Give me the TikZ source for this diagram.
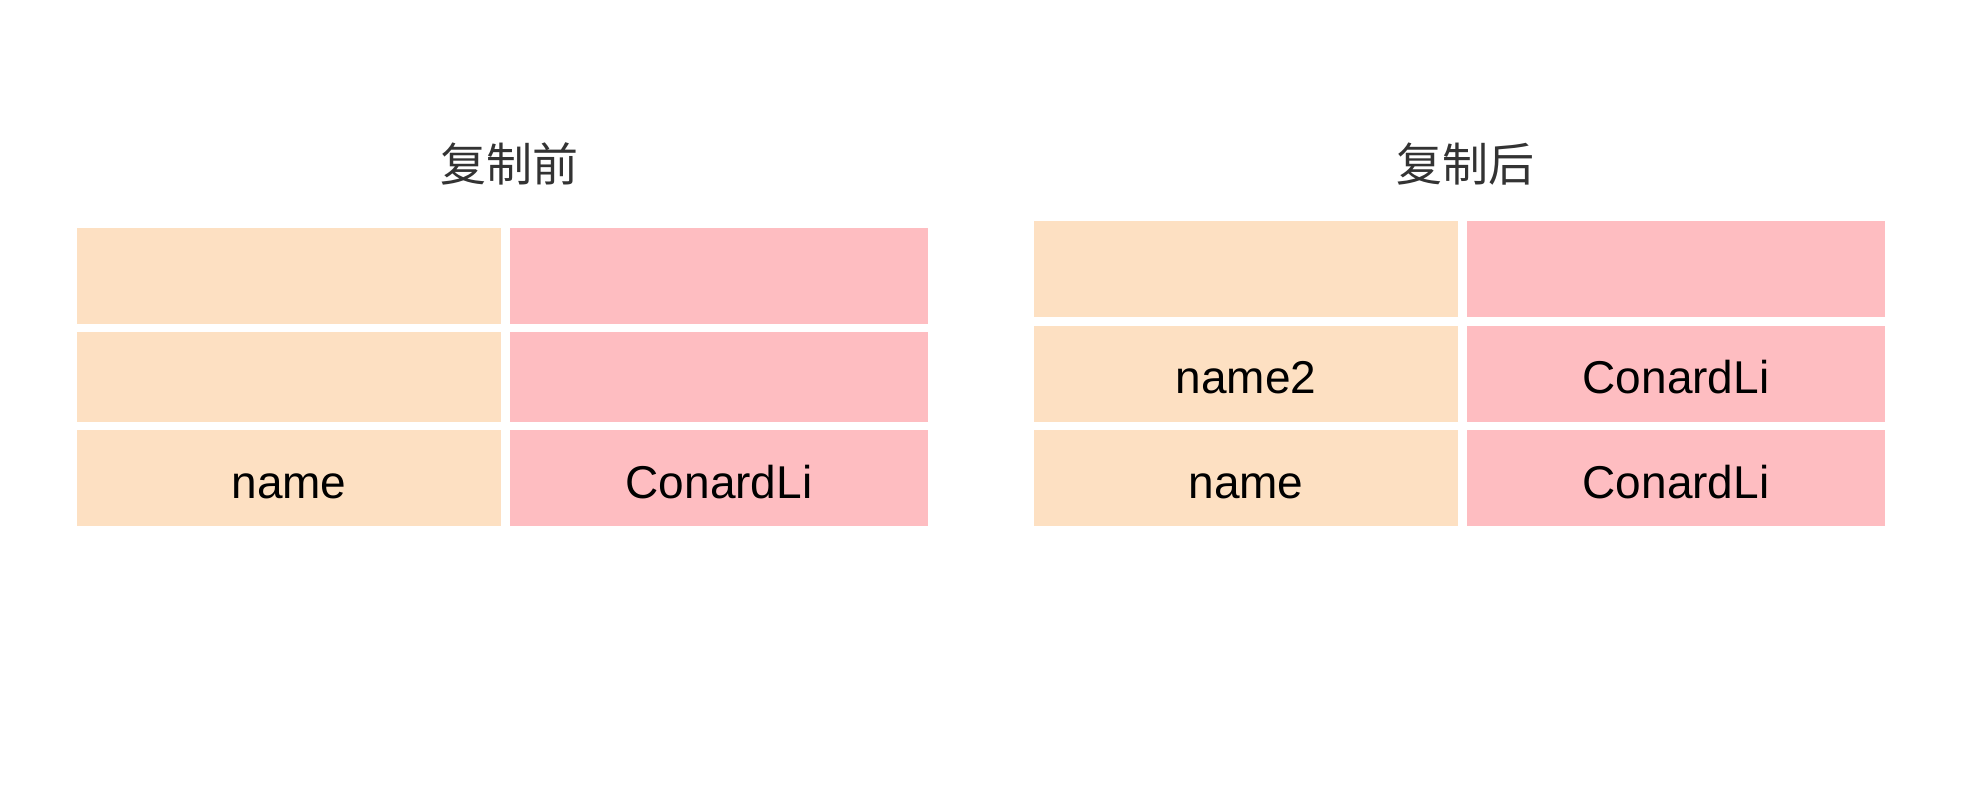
\documentclass[tikz,border=0pt]{standalone}
\usepackage{fontspec}
\setmainfont{Liberation Sans}
\newfontfamily\cjk{Noto Sans CJK SC}
\definecolor{peach}{HTML}{FDE0C2}
\definecolor{rose}{HTML}{FEBDC1}
\definecolor{titlegray}{HTML}{333333}
\tikzset{
  cellbox/.style={inner sep=0pt, minimum height=48pt, text height=23pt, text depth=3pt, font=\fontsize{23}{26}\selectfont, text=black},
  keycell/.style={cellbox, fill=peach, minimum width=212pt},
  valcell/.style={cellbox, fill=rose, minimum width=209pt},
  heading/.style={font=\cjk\fontsize{23}{26}\selectfont, text=titlegray}
}
\begin{document}
\begin{tikzpicture}[x=0.5pt, y=-0.5pt]
        \useasboundingbox (0,0) rectangle (1962,806);
        % Before copy
        \node[heading] (titleBefore) at (509,164) {复制前};
        \node[keycell] (b1k) at (289,276) {};
        \node[valcell] (b1v) at (719,276) {};
        \node[keycell, minimum height=45pt] (b2k) at (289,377) {};
        \node[valcell, minimum height=45pt] (b2v) at (719,377) {};
        \node[keycell] (b3k) at (289,478) {name};
        \node[valcell] (b3v) at (719,478) {ConardLi};
        
        % After copy
        \node[heading] (titleAfter) at (1465,164) {复制后};
        \node[keycell] (a1k) at (1246,269) {};
        \node[valcell] (a1v) at (1676,269) {};
        \node[keycell] (a2k) at (1246,374) {name2};
        \node[valcell] (a2v) at (1676,374) {ConardLi};
        \node[keycell] (a3k) at (1246,478) {name};
        \node[valcell] (a3v) at (1676,478) {ConardLi};
    \end{tikzpicture}
\end{document}
